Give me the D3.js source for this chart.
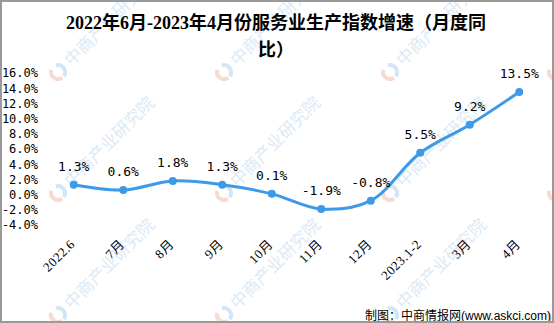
<!DOCTYPE html>
<html>
<head>
<meta charset="utf-8">
<script src="https://cdn.jsdelivr.net/npm/d3@7/dist/d3.min.js"></script>
<style>
  html, body { margin: 0; padding: 0; background: #fff; }
  svg { display: block; }
</style>
</head>
<body>
<div id="chart"></div>
<script>
// chart values
const categories = ["2022.6", "7月", "8月", "9月", "10月", "11月", "12月", "2023.1-2", "3月", "4月"];
const growth = [1.3, 0.6, 1.8, 1.3, 0.1, -1.9, -0.8, 5.5, 9.2, 13.5];
const yTicks = [-4, -2, 0, 2, 4, 6, 8, 10, 12, 14, 16];
const titleLines = ["2022年6月-2023年4月份服务业生产指数增速（月度同", "比）"];
const footerCn = "制图：中商情报网";
const footerEn = "(www.askci.com)";
const watermarkText = "中商产业研究院";

var width = 554, height = 323;

var svg = d3.select("#chart")
  .append("svg")
    .attr("width", width)
    .attr("height", height);

svg.append("rect")
  .attr("width", width)
  .attr("height", height)
  .attr("fill", "#fff");

// watermark tiles (behind everything), clipped to the frame
svg.append("clipPath")
  .attr("id", "frameClip")
  .append("rect")
    .attr("width", width)
    .attr("height", height);

var wmCols = [58, 224, 390, 556];
var wmRows = [72, 193, 315];
var wm = svg.append("g")
  .attr("class", "watermark")
  .attr("clip-path", "url(#frameClip)");
wmRows.forEach(function(wy) {
  wmCols.forEach(function(wx) {
    var g = wm.append("g").attr("transform", "translate(" + wx + "," + wy + ") rotate(-45)");
    var arc = d3.arc().innerRadius(5).outerRadius(9);
    g.append("path")
      .attr("d", arc({startAngle: -Math.PI * 0.15, endAngle: -Math.PI * 0.95}))
      .attr("fill", "#f8dbd0");
    g.append("path")
      .attr("d", arc({startAngle: -Math.PI * 1.05, endAngle: -Math.PI * 1.85}))
      .attr("fill", "#d3e6f5");
    g.append("text")
      .attr("x", 13)
      .attr("y", 6)
      .style("font-family", "'Noto Sans CJK SC', sans-serif")
      .style("font-size", "17px")
      .attr("fill", "#dbeaf7")
      .text(watermarkText);
  });
});

// scales
var x = d3.scaleBand()
  .domain(categories)
  .range([49, 544]);
var cx = function(d) { return x(d) + x.bandwidth() / 2; };

var y = d3.scaleLinear()
  .domain([-4, 16])
  .range([225, 73]);

// title
svg.append("g")
  .selectAll("text")
  .data(titleLines)
  .enter()
  .append("text")
    .attr("x", 276)
    .attr("y", function(d, i) { return 29 + i * 27; })
    .attr("text-anchor", "middle")
    .style("font-family", "'Liberation Serif', 'Noto Sans CJK SC', serif")
    .style("font-size", "18px")
    .style("font-weight", "bold")
    .attr("fill", "#000")
    .text(function(d) { return d; });

// y axis labels
var yAxis = svg.append("g")
  .attr("transform", "translate(38,0)")
  .call(d3.axisLeft(y)
    .tickValues(yTicks)
    .tickSize(0)
    .tickPadding(0)
    .tickFormat(function(d) { return d.toFixed(1) + "%"; }));
yAxis.select(".domain").remove();
yAxis.selectAll("text")
  .style("font-family", "'DejaVu Sans Mono', monospace")
  .style("font-size", "12px")
  .attr("fill", "#000");

// x axis labels, rotated
svg.append("g")
  .selectAll("text")
  .data(categories)
  .enter()
  .append("text")
    .attr("transform", function(d) { return "translate(" + (cx(d) + 2) + ",245) rotate(-45)"; })
    .attr("text-anchor", "end")
    .style("font-family", "'Liberation Serif', 'Noto Sans CJK SC', serif")
    .style("font-size", "13px")
    .style("letter-spacing", "0.5px")
    .attr("fill", "#000")
    .text(function(d) { return d; });

// line
var line = d3.line()
  .x(function(d, i) { return cx(categories[i]); })
  .y(function(d) { return y(d); })
  .curve(d3.curveCatmullRom.alpha(0.5));

svg.append("path")
  .datum(growth)
  .attr("d", line)
  .attr("fill", "none")
  .attr("stroke", "#3d9ae8")
  .attr("stroke-width", 3);

svg.selectAll("circle.dot")
  .data(growth)
  .enter()
  .append("circle")
    .attr("class", "dot")
    .attr("cx", function(d, i) { return cx(categories[i]); })
    .attr("cy", function(d) { return y(d); })
    .attr("r", 4)
    .attr("fill", "#3d9ae8");

// value labels
svg.selectAll("text.val")
  .data(growth)
  .enter()
  .append("text")
    .attr("class", "val")
    .attr("x", function(d, i) { return cx(categories[i]); })
    .attr("y", function(d) { return y(d) - 14; })
    .attr("text-anchor", "middle")
    .style("font-family", "'DejaVu Sans Mono', monospace")
    .style("font-size", "13px")
    .attr("fill", "#000")
    .text(function(d) { return d.toFixed(1) + "%"; });

// footer
var foot = svg.append("text")
  .attr("x", 551)
  .attr("y", 320)
  .attr("text-anchor", "end")
  .style("font-size", "12px")
  .attr("fill", "#000");
foot.append("tspan")
  .style("font-family", "'Noto Sans CJK SC', sans-serif")
  .text(footerCn);
foot.append("tspan")
  .style("font-family", "'Liberation Sans', Arial, sans-serif")
  .text(footerEn);

// frame
svg.append("rect")
  .attr("x", 1)
  .attr("y", 1)
  .attr("width", width - 2)
  .attr("height", height - 2)
  .attr("fill", "none")
  .attr("stroke", "#9a9a9a")
  .attr("stroke-width", 2);
</script>
</body>
</html>
